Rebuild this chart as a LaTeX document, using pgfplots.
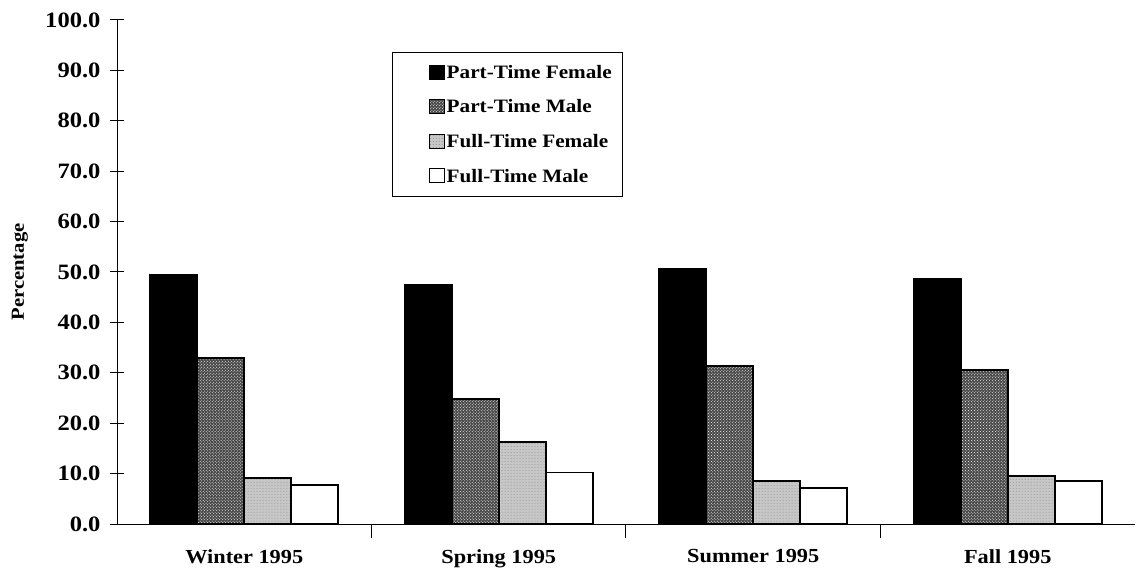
\documentclass[border=0pt]{standalone}
\usepackage{fontspec}
\setmainfont{Liberation Serif}[FakeStretch=1.12]
\usepackage{pgfplots}
\pgfplotsset{compat=1.18}
\usetikzlibrary{patterns}
\pgfplotstableread{
x PTF PTM FTF FTM
0 49.4 33.0 9.1 7.7
1 47.4 24.8 16.3 10.2
2 50.7 31.4 8.5 7.2
3 48.7 30.5 9.6 8.5
}\datatable
\begin{document}
\begin{tikzpicture}
\pgfplotsset{legimg/.style={legend image code/.code={\path (0bp,0bp); \draw[##1,line width=1pt] (27bp,-6.5bp) rectangle (42bp,7.5bp);}}}
\begin{axis}[
  at={(0,0)}, anchor=south west,
  scale only axis, width=1018bp, height=504bp,
  xmin=-0.5, xmax=3.5, ymin=0, ymax=100,
  axis x line=bottom, axis y line=left,
  axis line style={-, line width=1pt},
  ytick={0,10,...,100},
  yticklabel style={/pgf/number format/fixed, /pgf/number format/fixed zerofill, /pgf/number format/precision=1, /pgf/number format/assume math mode=true,
     font=\fontsize{22}{26}\selectfont\bfseries, xshift=-6bp},
  tick align=center, major tick length=14bp,
  every tick/.style={black, line width=1pt},
  xtick={0.5,1.5,2.5}, xticklabels={},
  extra x ticks={0,1,2,3},
  extra x tick labels={Winter 1995,Spring 1995,Summer 1995,Fall 1995},
  extra x tick style={major tick length=0pt,
     xticklabel style={font=\fontsize{20}{24}\selectfont\bfseries, yshift=-22bp}},
  ylabel={Percentage},
  ylabel style={at={(axis description cs:-0.0953,0.5)}, anchor=center, font=\fontsize{18.5}{22}\selectfont\bfseries},
  ybar=0pt, bar width=47bp,
  legend style={at={(0.270,0.937)}, anchor=north west, draw=black, line width=1pt,
     font=\fontsize{19}{23}\selectfont\bfseries, row sep=16bp, inner xsep=9bp, inner ysep=11bp},
  legend cell align=left,
]
\addplot[legimg, draw=black, line width=1.8pt, fill=black] table[x=x,y=PTF] {\datatable};
\addplot[legimg, draw=black, line width=1.8pt, fill=black!72, postaction={pattern=crosshatch dots, pattern color=white}] table[x=x,y=PTM] {\datatable};
\addplot[legimg, draw=black, line width=1.8pt, fill=black!22, postaction={pattern=dots, pattern color=black!45}] table[x=x,y=FTF] {\datatable};
\addplot[legimg, draw=black, line width=1.8pt, fill=white] table[x=x,y=FTM] {\datatable};
\legend{Part-Time Female,Part-Time Male,Full-Time Female,Full-Time Male}
\end{axis}
\pgfresetboundingbox
\path (-117bp,-48bp) rectangle (1022bp,524bp);
\end{tikzpicture}
\end{document}
